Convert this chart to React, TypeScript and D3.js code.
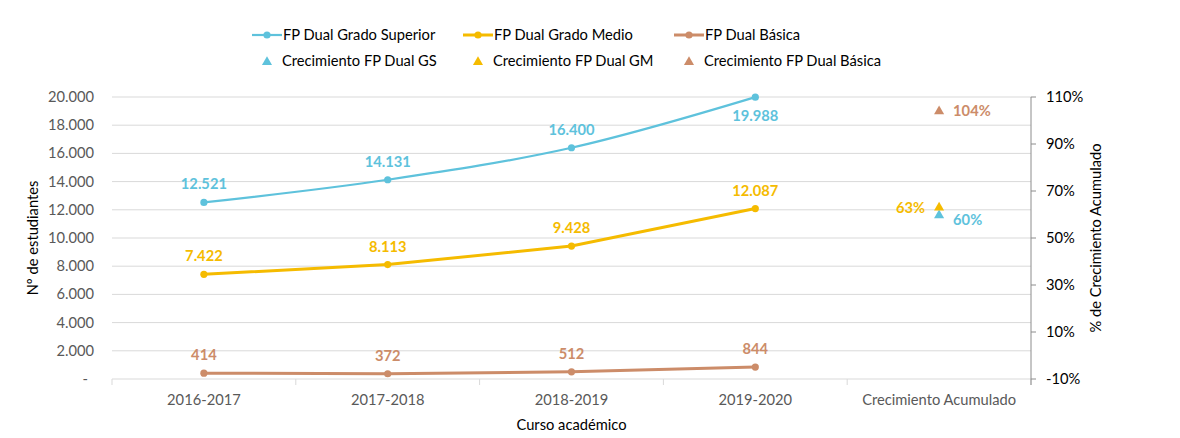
import React from "react";
import * as d3 from "d3";

const categories = ["2016-2017", "2017-2018", "2018-2019", "2019-2020", "Crecimiento Acumulado"];
const years = ["2016-2017", "2017-2018", "2018-2019", "2019-2020"];
const gsValues = [12521, 14131, 16400, 19988];
const gmValues = [7422, 8113, 9428, 12087];
const basicaValues = [414, 372, 512, 844];
const growthNames = ["Crecimiento FP Dual GS", "Crecimiento FP Dual GM", "Crecimiento FP Dual Básica"];
const growthValues = [0.596, 0.629, 1.039];
const leftTicks = [0, 2000, 4000, 6000, 8000, 10000, 12000, 14000, 16000, 18000, 20000];
const rightTicks = [-0.1, 0.1, 0.3, 0.5, 0.7, 0.9, 1.1];

const W = 1180, H = 438;
const L = 112, R = 1031, T = 97, B = 379;
const FONT = "Lato, 'Open Sans', sans-serif";
const FS = 14.7;
const C_GS = "#5ec2dc";
const C_GM = "#f5bb00";
const C_BA = "#cc8c69";

const locale = d3.formatLocale({ decimal: ",", thousands: ".", grouping: [3], currency: ["", "€"], minus: "-" });
const fmtNum = locale.format(",.0f");
const fmtPct = locale.format(".0%");

export default function App() {
  const x = d3.scaleBand<string>().domain(categories).range([L, R]).paddingInner(0).paddingOuter(0);
  const cx = (c: string) => (x(c) as number) + x.bandwidth() / 2;
  const yL = d3.scaleLinear().domain([0, 20000]).range([B, T]);
  const yR = d3.scaleLinear().domain([-0.1, 1.1]).range([B, T]);

  const series = [
    { name: "FP Dual Grado Superior", values: gsValues, color: C_GS, width: 2.2, curve: d3.curveCatmullRom.alpha(0.5) },
    { name: "FP Dual Grado Medio", values: gmValues, color: C_GM, width: 3, curve: d3.curveLinear },
    { name: "FP Dual Básica", values: basicaValues, color: C_BA, width: 3, curve: d3.curveLinear },
  ];
  const growthColors = [C_GS, C_GM, C_BA];
  const growthSide = [1, -1, 1];
  const growthDy = [5, 0, 0];

  const tri = d3.symbol().type(d3.symbolTriangle).size(44)();
  const boundaries = categories.map((c) => x(c) as number).concat([R]);

  return (
    <svg width={W} height={H} style={{ position: "absolute", left: 0, top: 0, background: "#fff" }} fontFamily={FONT}>
      {leftTicks.filter((t) => t > 0).map((t) => (
        <line key={t} x1={L} x2={R} y1={yL(t)} y2={yL(t)} stroke="#d9d9d9" strokeWidth={1} />
      ))}
      <line x1={L} x2={R} y1={B} y2={B} stroke="#d9d9d9" strokeWidth={1} />
      {boundaries.map((b, i) => (
        <line key={i} x1={b} x2={b} y1={B} y2={B + 6} stroke="#d9d9d9" strokeWidth={1} />
      ))}
      {categories.map((c) => (
        <text key={c} x={cx(c)} y={405} textAnchor="middle" fontSize={FS} fill="#595959">{c}</text>
      ))}
      <text x={(L + R) / 2} y={430} textAnchor="middle" fontSize={FS} fill="#000">Curso académico</text>

      {leftTicks.map((t) => (
        <text key={t} x={t === 0 ? 88 : 94} y={yL(t) + 5} textAnchor="end" fontSize={FS} fill="#595959">
          {t === 0 ? "-" : fmtNum(t)}
        </text>
      ))}
      <text transform={`translate(38,${(T + B) / 2}) rotate(-90)`} textAnchor="middle" fontSize={FS} fill="#000">
        Nº de estudiantes
      </text>

      <line x1={R} x2={R} y1={T} y2={B + 6} stroke="#8c8c8c" strokeWidth={1} />
      {rightTicks.map((t) => (
        <g key={t}>
          <line x1={R} x2={R + 5} y1={yR(t)} y2={yR(t)} stroke="#8c8c8c" strokeWidth={1} />
          <text x={1046} y={yR(t) + 5} fontSize={FS} fill="#000">{fmtPct(t)}</text>
        </g>
      ))}
      <text transform={`translate(1101,${(T + B) / 2}) rotate(-90)`} textAnchor="middle" fontSize={FS} fill="#000">
        % de Crecimiento Acumulado
      </text>

      {series.map((s) => {
        const line = d3
          .line<number>()
          .x((_, i) => cx(years[i]))
          .y((v) => yL(v))
          .curve(s.curve);
        return (
          <g key={s.name}>
            <path d={line(s.values) || ""} fill="none" stroke={s.color} strokeWidth={s.width} />
            {s.values.map((v, i) => (
              <circle key={i} cx={cx(years[i])} cy={yL(v)} r={3.6} fill={s.color} />
            ))}
            {s.values.map((v, i) => {
              const below = s.values === gsValues && i === s.values.length - 1;
              return (
                <text key={"l" + i} x={cx(years[i])} y={below ? yL(v) + 24 : yL(v) - 13}
                  textAnchor="middle" fontSize={FS} fontWeight="bold" fill={s.color}>
                  {fmtNum(v)}
                </text>
              );
            })}
          </g>
        );
      })}

      {growthValues.map((g, i) => {
        const px = cx(categories[4]);
        const py = yR(g);
        return (
          <g key={growthNames[i]}>
            <path d={tri || ""} transform={`translate(${px},${py})`} fill={growthColors[i]} />
            <text x={px + growthSide[i] * 14} y={py + 5 + growthDy[i]} textAnchor={growthSide[i] > 0 ? "start" : "end"}
              fontSize={FS} fontWeight="bold" fill={growthColors[i]}>
              {fmtPct(g)}
            </text>
          </g>
        );
      })}

      {series.map((s, i) => {
        const sx = [267, 478, 689][i];
        return (
          <g key={"lg" + s.name}>
            <line x1={sx - 15} x2={sx + 15} y1={35} y2={35} stroke={s.color} strokeWidth={s.width} />
            <circle cx={sx} cy={35} r={3.6} fill={s.color} />
            <text x={sx + 16} y={40} fontSize={FS} fill="#000">{s.name}</text>
          </g>
        );
      })}
      {growthNames.map((n, i) => {
        const sx = [267, 478, 689][i];
        return (
          <g key={"lg2" + n}>
            <path d={tri || ""} transform={`translate(${sx},${62})`} fill={growthColors[i]} />
            <text x={sx + 15} y={66} fontSize={FS} fill="#000">{n}</text>
          </g>
        );
      })}
    </svg>
  );
}
